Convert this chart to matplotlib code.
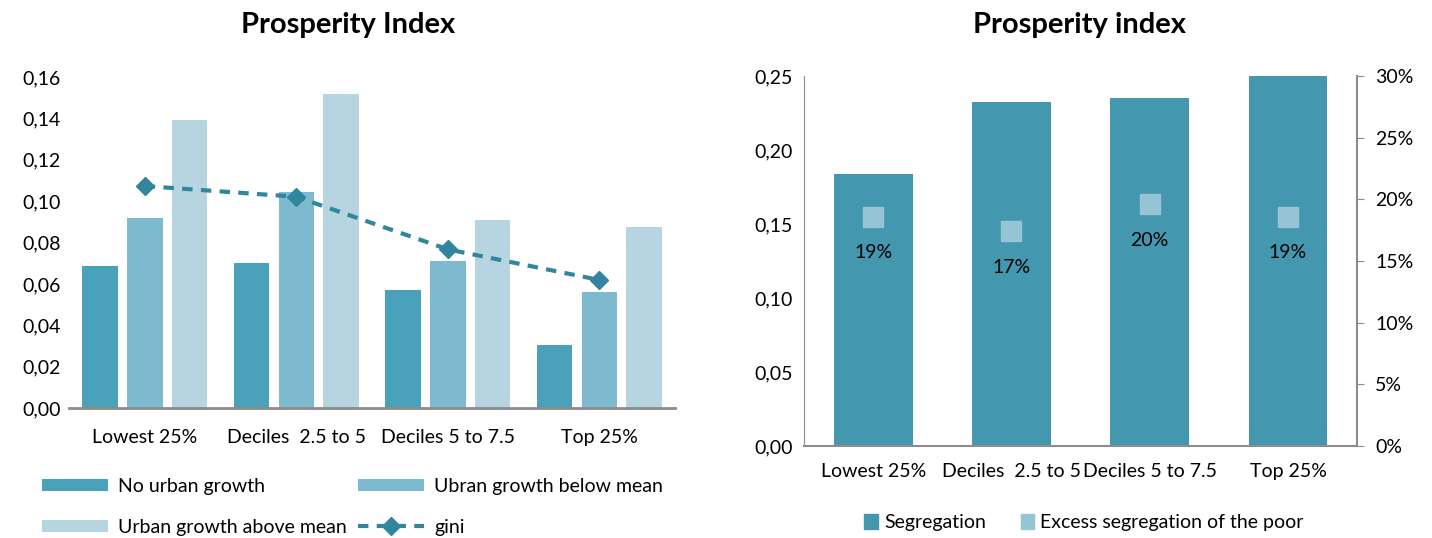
import numpy as np
import matplotlib
matplotlib.use('Agg')
import matplotlib.pyplot as plt
from matplotlib.ticker import FuncFormatter, MultipleLocator
from matplotlib.patches import Patch

plt.rcParams['font.family'] = ['Lato', 'DejaVu Sans']

# left chart data
groups = ['Lowest 25%', 'Deciles  2.5 to 5', 'Deciles 5 to 7.5', 'Top 25%']
no_growth = [0.0688, 0.0699, 0.0570, 0.0303]
growth_below = [0.0917, 0.1046, 0.0712, 0.0559]
growth_above = [0.1390, 0.1518, 0.0909, 0.0873]
gini = [0.1073, 0.1021, 0.0767, 0.0619]

# right chart data
segregation = [0.1839, 0.2322, 0.2353, 0.2500]
excess_poor = [18.6, 17.4, 19.6, 18.6]
excess_labels = ['19%', '17%', '20%', '19%']

c_no = '#49A2B9'
c_below = '#7EBACF'
c_above = '#B7D5E0'
c_gini = '#31869E'
c_seg = '#4397AF'
c_excess = '#95C5D5'
grey = '#8C8C8C'

fig = plt.figure(figsize=(14.32, 5.38), dpi=100)

comma = FuncFormatter(lambda v, p: f'{v:.2f}'.replace('.', ','))
fs = 14

# ---- left chart ----
ax1 = fig.add_axes([0.0482, 0.2416, 0.4232, 0.6153])
x = np.arange(len(groups))
w = 0.234
off = 0.295
b1 = ax1.bar(x - off, no_growth, w, color=c_no, label='No urban growth')
b2 = ax1.bar(x, growth_below, w, color=c_below, label='Ubran growth below mean')
b3 = ax1.bar(x + off, growth_above, w, color=c_above, label='Urban growth above mean')
ln, = ax1.plot(x, gini, color=c_gini, lw=3, ls=(0, (2.5, 2)), marker='D',
               markersize=9, label='gini')
ax1.set_xlim(-0.5, 3.5)
ax1.set_ylim(0, 0.16)
ax1.yaxis.set_major_locator(MultipleLocator(0.02))
ax1.yaxis.set_major_formatter(comma)
ax1.set_xticks(x)
ax1.set_xticklabels(groups)
for s in ['top', 'right', 'left']:
    ax1.spines[s].set_visible(False)
ax1.spines['bottom'].set_color(grey)
ax1.spines['bottom'].set_linewidth(2)
ax1.tick_params(axis='both', length=0, labelsize=fs)
ax1.tick_params(axis='x', pad=15)
ax1.tick_params(axis='y', pad=6)
fig.text(0.243, 0.953, 'Prosperity Index', ha='center', va='center',
         fontsize=21, fontweight='bold')

fig.legend(handles=[b1, b3, b2, ln], ncol=2, loc='center',
           bbox_to_anchor=(0.246, 0.058), frameon=False, fontsize=fs,
           handlelength=3.4, handleheight=0.6, columnspacing=0.6,
           handletextpad=0.5, labelspacing=1.25)

# ---- right chart ----
ax2 = fig.add_axes([0.5615, 0.1710, 0.3862, 0.6877])
ax2.bar(x, segregation, 0.57, color=c_seg, label='Segregation')
ax2.set_xlim(-0.5, 3.5)
ax2.set_ylim(0, 0.25)
ax2.yaxis.set_major_locator(MultipleLocator(0.05))
ax2.yaxis.set_major_formatter(comma)
ax2.set_xticks(x)
ax2.set_xticklabels(groups)
for s in ['top', 'right']:
    ax2.spines[s].set_visible(False)
ax2.spines['left'].set_color(grey)
ax2.spines['bottom'].set_color(grey)
ax2.spines['bottom'].set_linewidth(1.5)
ax2.tick_params(axis='both', length=0, labelsize=fs)
ax2.tick_params(axis='x', pad=12)
ax2.tick_params(axis='y', pad=8)

ax3 = ax2.twinx()
ax3.plot(x, excess_poor, ls='none', marker='s', markersize=15, color=c_excess,
         label='Excess segregation of the poor')
for xi, v, t in zip(x, excess_poor, excess_labels):
    ax3.text(xi, v - 2.9, t, ha='center', va='center', fontsize=fs)
ax3.set_ylim(0, 30)
ax3.yaxis.set_major_locator(MultipleLocator(5))
ax3.yaxis.set_major_formatter(FuncFormatter(lambda v, p: f'{v:.0f}%'))
for s in ['top', 'left', 'bottom']:
    ax3.spines[s].set_visible(False)
ax3.spines['right'].set_color(grey)
ax3.spines['right'].set_linewidth(1.5)
ax3.tick_params(axis='y', length=5, color=grey, labelsize=fs, pad=8)
fig.text(0.754, 0.953, 'Prosperity index', ha='center', va='center',
         fontsize=21, fontweight='bold')

h2 = [Patch(color=c_seg, label='Segregation'),
      Patch(color=c_excess, label='Excess segregation of the poor')]
fig.legend(handles=h2, ncol=2, loc='center', bbox_to_anchor=(0.757, 0.029),
           frameon=False, fontsize=fs, handlelength=0.7, handleheight=0.8,
           handletextpad=0.3, columnspacing=1.8)

fig.savefig('out.png', dpi=100)
